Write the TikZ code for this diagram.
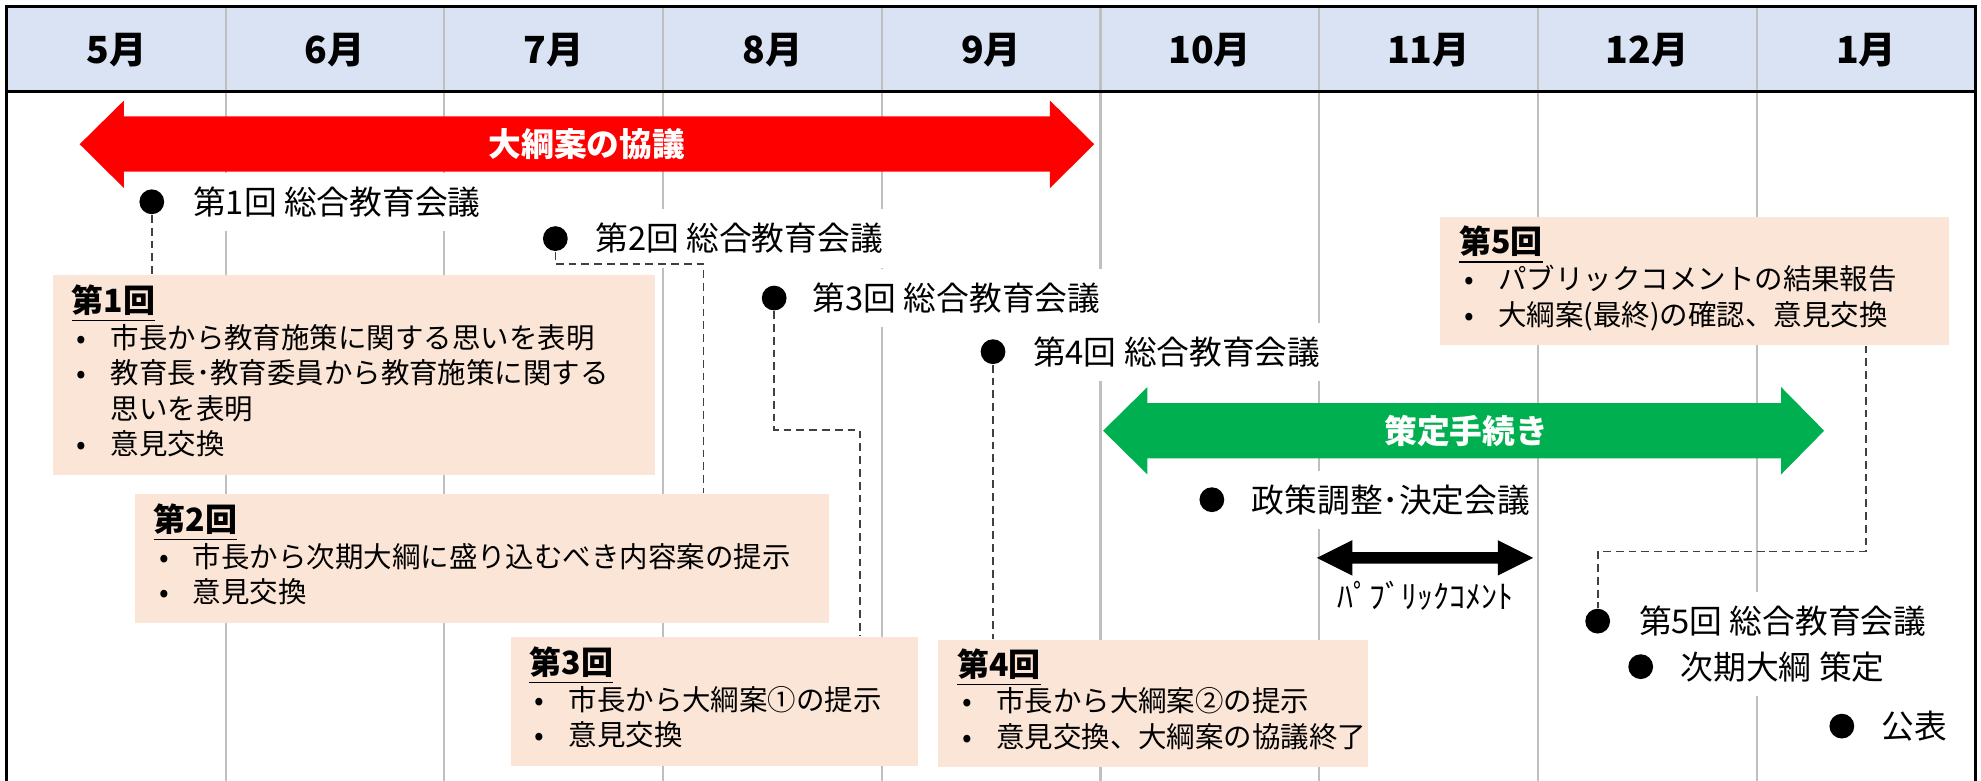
\documentclass[tikz,border=0pt]{standalone}
\usepackage{fontspec}
\setmainfont{Noto Sans CJK JP}
\usepackage{tikz}

\definecolor{hdrblue}{HTML}{DAE3F3}
\definecolor{boxpeach}{HTML}{FBE5D6}
\definecolor{gridgray}{HTML}{BFBFBF}
\definecolor{plangreen}{HTML}{00B050}

\begin{document}
\begin{tikzpicture}[x=0.0125cm,y=-0.0125cm,
  gridline/.style={draw=gridgray,line width=0.6pt},
  dot/.style={circle,fill=black,inner sep=0pt,minimum size=0.245cm},
  lbl/.style={anchor=west,fill=white,inner xsep=0.07cm,inner ysep=0pt,minimum height=0.575cm,font=\fontsize{9.2}{11}\selectfont},
  box/.style={anchor=north west,fill=boxpeach,inner xsep=0.1875cm,inner ysep=0pt,align=left,font=\fontsize{8}{10}\selectfont},
  conn/.style={draw=black!75,line width=0.45pt,dash pattern=on 2.2pt off 1.4pt},
  arrowlbl/.style={text=white,font=\fontsize{9.2}{11}\selectfont\bfseries}]

\useasboundingbox (0,0) rectangle (1566,616.6);

% header and grid
\fill[hdrblue] (5.5,5.5) rectangle (1562,72.4);
\foreach \i in {1,...,8} {
\draw[gridline] (5.5+172.9*\i,5.5) -- (5.5+172.9*\i,617);
}
\foreach \m [count=\i from 0] in {5,6,7,8,9,10,11,12,1} {
\node[font=\fontsize{10.5}{12}\selectfont\bfseries] (mon\i) at (91.95+172.9*\i,40) {{\m}月};
}
\draw[line width=0.85pt] (5.5,617) -- (5.5,5.5) -- (1562,5.5) -- (1562,617);
\draw[line width=0.85pt] (5.5,72.4) -- (1562,72.4);

% meetings
\node[lbl] (m1) at (146.5,159.5) {第1回 総合教育会議};
\node[lbl] (m2) at (464.5,188.6) {第2回 総合教育会議};
\node[lbl] (m3) at (636.5,235.6) {第3回 総合教育会議};
\node[lbl] (m4) at (810.5,278) {第4回 総合教育会議};
\node[lbl] (m6) at (983.5,395) {政策調整･決定会議};
\node[lbl] (m5) at (1289.5,491) {第5回 総合教育会議};
\node[lbl] (m7) at (1322.5,527) {次期大綱 策定};
\node[lbl] (m8) at (1481.5,574) {公表};

\node[dot] (b1) at (120,159.5) {};
\node[dot] (b2) at (439,188.6) {};
\node[dot] (b3) at (612,235.6) {};
\node[dot] (b4) at (785,278) {};
\node[dot] (b6) at (958,395) {};
\node[dot] (b5) at (1263,491) {};
\node[dot] (b7) at (1297,527) {};
\node[dot] (b8) at (1456,574) {};

% spans
\fill[red] (63,114) -- (98,79.5) -- (98,92) -- (830,92) -- (830,79.5) -- (865,114)
  -- (830,148.7) -- (830,135.6) -- (98,135.6) -- (98,148.7) -- cycle;
\node[arrowlbl] (talk) at (464,114) {大綱案の協議};

\fill[plangreen] (872,340.5) -- (907,306) -- (907,318.6) -- (1408,318.6) -- (1408,306) -- (1442,340.5)
  -- (1408,375) -- (1408,362.4) -- (907,362.4) -- (907,375) -- cycle;
\node[arrowlbl] (proc) at (1159,340.5) {策定手続き};

\fill[black] (1041,441) -- (1069,427) -- (1069,436.5) -- (1184,436.5) -- (1184,427) -- (1212,441)
  -- (1184,455) -- (1184,445.5) -- (1069,445.5) -- (1069,455) -- cycle;
\node[font=\fontsize{9}{11}\selectfont] (pc) at (1127,471) {ﾊﾟﾌﾞﾘｯｸｺﾒﾝﾄ};

% agenda boxes
\node[box,text width=5.575cm,minimum height=1.975cm] (p1) at (41,217) {%
\begin{tabular}{@{\hspace{1.5pt}}p{9.5pt}@{}l@{}}
\multicolumn{2}{@{}l@{}}{\fontsize{9}{10}\selectfont\bfseries\underline{第1回}}\\
• & 市長から教育施策に関する思いを表明\\
• & 教育長･教育委員から教育施策に関する\\
  & 思いを表明\\
• & 意見交換
\end{tabular}};
\node[box,text width=6.4875cm,minimum height=1.275cm] (p2) at (106,390) {%
\begin{tabular}{@{\hspace{1.5pt}}p{9.5pt}@{}l@{}}
\multicolumn{2}{@{}l@{}}{\fontsize{9}{10}\selectfont\bfseries\underline{第2回}}\\
• & 市長から次期大綱に盛り込むべき内容案の提示\\
• & 意見交換
\end{tabular}};
\node[box,text width=3.65cm,minimum height=1.275cm] (p3) at (403,503) {%
\begin{tabular}{@{\hspace{1.5pt}}p{9.5pt}@{}l@{}}
\multicolumn{2}{@{}l@{}}{\fontsize{9}{10}\selectfont\bfseries\underline{第3回}}\\
• & 市長から大綱案①の提示\\
• & 意見交換
\end{tabular}};
\node[box,text width=3.875cm,minimum height=1.2625cm] (p4) at (741,505) {%
\begin{tabular}{@{\hspace{1.5pt}}p{9.5pt}@{}l@{}}
\multicolumn{2}{@{}l@{}}{\fontsize{9}{10}\selectfont\bfseries\underline{第4回}}\\
• & 市長から大綱案②の提示\\
• & 意見交換、大綱案の協議終了
\end{tabular}};
\node[box,text width=4.65cm,minimum height=1.2625cm] (p5) at (1138,171) {%
\begin{tabular}{@{\hspace{1.5pt}}p{9.5pt}@{}l@{}}
\multicolumn{2}{@{}l@{}}{\fontsize{9}{10}\selectfont\bfseries\underline{第5回}}\\
• & パブリックコメントの結果報告\\
• & 大綱案(最終)の確認、意見交換
\end{tabular}};

% dashed links
\coordinate (k2) at (556,208.8);
\coordinate (k3) at (679.6,339.8);
\coordinate (k5) at (1475,436);
\draw[conn] (b1.south) -- (b1.south |- p1.north);
\draw[conn] (b2.south) |- (k2) -- (k2 |- p2.north);
\draw[conn] (b3.south) |- (k3) -- (k3 |- p3.north);
\draw[conn] (b4.south) -- (b4.south |- p4.north);
\draw[conn] (k5 |- p5.south) -- (k5) -| (b5.north);

\end{tikzpicture}
\end{document}
